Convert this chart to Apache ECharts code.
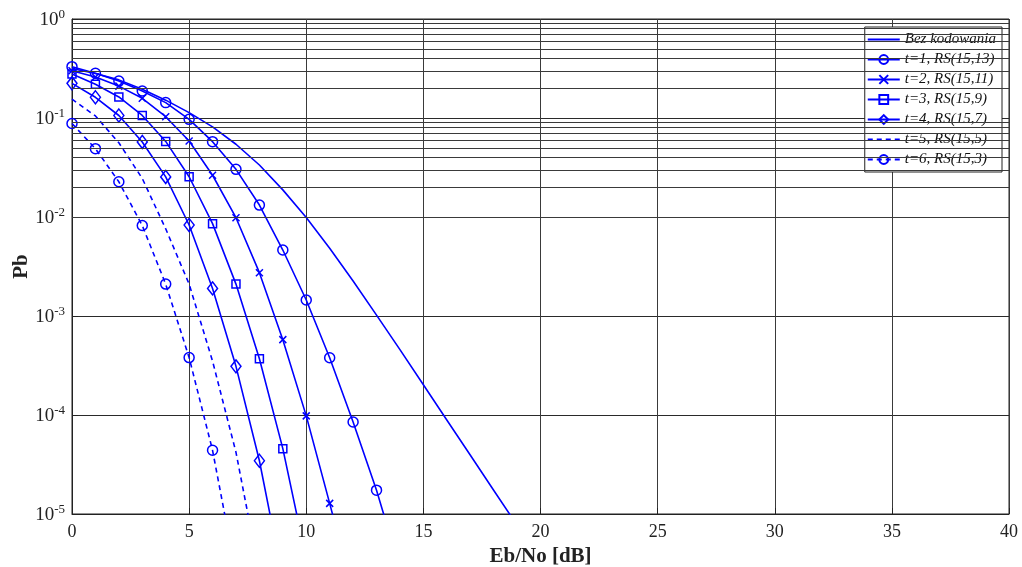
<!DOCTYPE html>
<html>
<head>
<meta charset="utf-8">
<script src="https://cdn.jsdelivr.net/npm/echarts@6/dist/echarts.min.js"></script>
<style>html,body{margin:0;padding:0;background:#fff}#c{width:1022px;height:567px}</style>
</head>
<body>
<div id="c"></div>
<script>
var ebno = [0,1,2,3,4,5,6,7,8,9,10,11,12,13,14,15,16,17,18,19];
var seriesNames = ['Bez kodowania','t=1, RS(15,13)','t=2, RS(15,11)','t=3, RS(15,9)','t=4, RS(15,7)','t=5, RS(15,5)','t=6, RS(15,3)'];
var uncoded = [0.3162,0.2818,0.2427,0.195,0.1514,0.1132,0.0813,0.0543,0.0335,0.0188,0.00989,0.00484,0.00226,0.00102,4.57e-4,2.02e-4,8.9e-5,3.94e-5,1.74e-5,7.7e-6];
var t1 = [0.33,0.283,0.236,0.187,0.143,0.097,0.0577,0.0303,0.0132,4.64e-3,1.45e-3,3.79e-4,8.5e-5,1.74e-5,2.8e-6];
var t2 = [0.30,0.26,0.21,0.158,0.103,0.0586,0.0264,9.84e-3,2.74e-3,5.77e-4,9.8e-5,1.28e-5,1.6e-6];
var t3 = [0.278,0.219,0.163,0.106,0.058,0.0255,8.57e-3,2.1e-3,3.7e-4,4.57e-5,3.5e-6];
var t4 = [0.224,0.162,0.106,0.0573,0.0254,8.3e-3,1.9e-3,3.1e-4,3.45e-5,2.2e-6];
var t5 = [0.155,0.105,0.0562,0.0245,7.6e-3,2.1e-3,3.5e-4,4.2e-5,2.5e-6];
var t6 = [0.088,0.049,0.0227,8.2e-3,2.1e-3,3.8e-4,4.4e-5,2.5e-6];
var xTicks = {min: 0, max: 40, interval: 5};
var yRange = {min: 1e-5, max: 1};
var minorGrid = [];
[-5,-4,-3,-2,-1].forEach(function(e){ for (var m = 2; m <= 9; m++) minorGrid.push(m * Math.pow(10, e)); });

function pts(arr){ return arr.map(function(v,i){ return [ebno[i], v]; }); }
var BLUE = '#0000ff';
var FONT = '"Liberation Serif", "Times New Roman", serif';
var xPath = 'path://M0,0L10,10M10,0L0,10';

function mk(name, data, symbol, size, dashed){
  var noSym = symbol === 'none';
  return {
    name: name, type: 'line', data: pts(data),
    symbol: noSym ? 'circle' : symbol, symbolSize: noSym ? 0 : size, showSymbol: !noSym,
    clip: true, z: 3,
    lineStyle: {color: BLUE, width: 1.6, type: dashed ? [5,4] : 'solid'},
    itemStyle: {color: 'rgba(0,0,0,0)', borderColor: noSym ? 'rgba(0,0,0,0)' : BLUE, borderWidth: 1.5},
    emphasis: {disabled: true}, animation: false
  };
}

var series = [
  mk(seriesNames[0], uncoded, 'none', 0, false),
  mk(seriesNames[1], t1, 'circle', 10, false),
  mk(seriesNames[2], t2, xPath, 7, false),
  mk(seriesNames[3], t3, 'rect', 8, false),
  mk(seriesNames[4], t4, 'diamond', [10,13], false),
  mk(seriesNames[5], t5, 'none', 0, true),
  mk(seriesNames[6], t6, 'circle', 10, true)
];
series.push({
  type: 'line', data: [], silent: true, z: 1, animation: false,
  markLine: {
    silent: true, symbol: ['none','none'], animation: false,
    label: {show: false},
    lineStyle: {color: '#3a3a3a', width: 1, type: 'solid'},
    data: minorGrid.map(function(v){ return {yAxis: v}; })
  }
});

var chart = echarts.init(document.getElementById('c'), null, {renderer: 'canvas'});
chart.setOption({
  animation: false,
  backgroundColor: '#fff',
  grid: {left: 72, right: 13, top: 19, bottom: 53, containLabel: false, outerBoundsMode: 'none', show: true, borderColor: '#222', borderWidth: 1, backgroundColor: 'transparent'},
  xAxis: {
    type: 'value', min: xTicks.min, max: xTicks.max, interval: xTicks.interval,
    name: 'Eb/No [dB]', nameLocation: 'middle', nameGap: 31,
    nameTextStyle: {fontFamily: FONT, fontSize: 21, fontWeight: 'bold', color: '#222'},
    axisLine: {show: true, lineStyle: {color: '#222'}},
    axisTick: {show: true, inside: true, length: 6, lineStyle: {color: '#222'}},
    axisLabel: {fontFamily: FONT, fontSize: 18, color: '#222', margin: 9},
    splitLine: {show: true, lineStyle: {color: '#3a3a3a', width: 1}}
  },
  yAxis: {
    type: 'log', logBase: 10, min: yRange.min, max: yRange.max,
    name: 'Pb', nameLocation: 'middle', nameGap: 40, nameRotate: 90, nameMoveOverlap: false,
    nameTextStyle: {fontFamily: FONT, fontSize: 21, fontWeight: 'bold', color: '#222'},
    axisLine: {show: true, lineStyle: {color: '#222'}},
    axisTick: {show: true, inside: true, length: 6, lineStyle: {color: '#222'}},
    axisLabel: {
      fontFamily: FONT, color: '#222', margin: 7,
      formatter: function(v){ return '{b|10}{e|' + Math.round(Math.log10(v)) + '}'; },
      rich: {
        b: {fontFamily: FONT, fontSize: 19, color: '#222', verticalAlign: 'bottom'},
        e: {fontFamily: FONT, fontSize: 13, color: '#222', verticalAlign: 'bottom', padding: [0,0,9,0]}
      }
    },
    splitLine: {show: true, lineStyle: {color: '#2a2a2a', width: 1}}
  },
  legend: {
    data: seriesNames, orient: 'vertical', right: 20, top: 27,
    backgroundColor: '#fff', borderColor: '#222', borderWidth: 1,
    padding: [5, 6, 5, 2], itemGap: 5, itemWidth: 32, itemHeight: 11,
    textStyle: {fontFamily: FONT, fontSize: 15, fontStyle: 'italic', color: '#111', lineHeight: 15, padding: [0,0,0,0]},
    selectedMode: false
  },
  series: series
});
</script>
</body>
</html>
